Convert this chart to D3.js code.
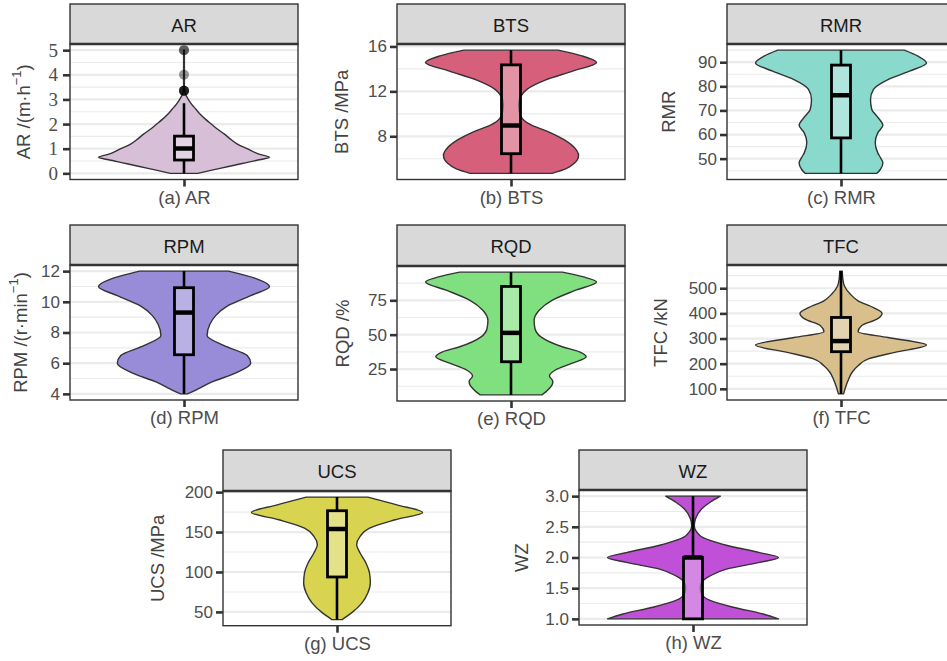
<!DOCTYPE html>
<html><head><meta charset="utf-8">
<script src="https://cdn.jsdelivr.net/npm/d3@7"></script>
<style>body{margin:0;background:#fff;overflow:hidden}</style>
</head><body><svg id="c" width="947" height="661"></svg>
<script>
// ---------------- data ----------------
const names   = ["AR","BTS","RMR","RPM","RQD","TFC","UCS","WZ"];
const xLabels = ["(a) AR","(b) BTS","(c) RMR","(d) RPM","(e) RQD","(f) TFC","(g) UCS","(h) WZ"];
const colors  = ["#D8BFD8","#D6607C","#8AD9CD","#988CD8","#80E080","#D8BF8C","#D8D450","#C050D8"];
const yTitles = [
  [["AR /(m·h",""],["−1","sup"],[")",""]],
  [["BTS /MPa",""]],
  [["RMR",""]],
  [["RPM /(r·min",""],["−1","sup"],[")",""]],
  [["RQD /%",""]],
  [["TFC /kN",""]],
  [["UCS /MPa",""]],
  [["WZ",""]]
];

// violin outlines: [value, relative half-width]
const arProfile  = [[0,0.16],[0.2,0.42],[0.4,0.68],[0.55,0.88],[0.65,1.0],[0.8,0.86],[1.0,0.74],[1.2,0.62],[1.4,0.54],[1.6,0.47],[1.8,0.39],[2.0,0.32],[2.2,0.25],[2.4,0.19],[2.6,0.14],[2.8,0.09],[3.0,0.05],[3.2,0.02],[3.35,0.008],[4.0,0.005],[5.0,0.005]];
const btsProfile = [[4.7,0.48],[5.1,0.64],[5.6,0.74],[6.3,0.79],[7.0,0.74],[7.7,0.62],[8.4,0.44],[9.0,0.24],[9.6,0.13],[10.3,0.095],[10.9,0.09],[11.5,0.11],[12.2,0.19],[13.0,0.4],[13.8,0.72],[14.57,1.0],[15.16,0.83],[15.67,0.55]];
const rmrProfile = [[43.9,0.42],[45.5,0.46],[48.3,0.49],[50.5,0.46],[52.4,0.43],[56.6,0.40],[60.7,0.43],[63.8,0.49],[67.6,0.42],[70.4,0.36],[74.5,0.345],[78.7,0.38],[82.8,0.55],[86.3,0.8],[89.7,1.0],[92.5,0.9],[95,0.74]];
const rpmProfile = [[4.0,0.04],[4.2,0.12],[4.76,0.32],[5.4,0.62],[6.0,0.78],[6.5,0.74],[7.14,0.47],[7.8,0.27],[8.5,0.3],[9.1,0.37],[9.73,0.51],[10.4,0.78],[11.0,1.0],[11.5,0.85],[12.0,0.52]];
const rqdProfile = [[6.2,0.36],[8,0.4],[11,0.45],[13.5,0.48],[16,0.49],[20,0.45],[24.3,0.52],[29.1,0.71],[33.9,0.88],[37.5,0.8],[41.2,0.6],[48.4,0.35],[54.5,0.28],[60.5,0.27],[67.8,0.33],[75,0.48],[82.2,0.75],[88.3,1.0],[92,0.85],[95.5,0.6]];
const tfcProfile = [[80,0.03],[113,0.06],[139,0.09],[166,0.13],[192,0.2],[219,0.32],[245,0.63],[274,1.0],[304,0.55],[327,0.2],[351,0.24],[377,0.42],[400,0.48],[423,0.38],[450,0.2],[476,0.11],[509,0.04],[540,0.02],[568,0.015]];
const ucsProfile = [[40.4,0.06],[48.75,0.17],[61,0.29],[73.75,0.36],[86,0.39],[98.75,0.38],[111,0.34],[123.75,0.27],[134,0.23],[144.6,0.27],[155,0.38],[165.4,0.68],[174.6,1.0],[184,0.7],[193.75,0.36]];
const wzProfile  = [[1.0,1.0],[1.08,0.82],[1.19,0.47],[1.3,0.2],[1.41,0.1],[1.5,0.085],[1.59,0.1],[1.7,0.2],[1.81,0.39],[1.92,0.78],[2.0,1.0],[2.08,0.78],[2.2,0.39],[2.36,0.08],[2.52,0.015],[2.63,0.03],[2.79,0.1],[2.9,0.2],[3.0,0.32]];

// boxplot stats: [lower whisker, Q1, median, Q3, upper whisker]
const arBox  = [0, 0.54, 1.01, 1.51, 2.85];
const btsBox = [4.7, 6.45, 8.96, 14.36, 15.67];
const rmrBox = [43.9, 58.6, 76.3, 88.8, 95];
const rpmBox = [4.0, 6.55, 9.3, 10.92, 12.0];
const rqdBox = [6.2, 30.3, 51.3, 85.1, 95.5];
const tfcBox = [80, 247.7, 290, 383.8, 568];
const ucsBox = [40.4, 93.75, 153.75, 176.7, 193.75];
const wzBox  = [1.0, 1.0, 2.0, 2.0, 3.0];

const arOutliers = [5, 5, 4, 3.35, 3.35, 3.35, 3.35];

// tick labels
const arTicks  = [0,1,2,3,4,5];
const btsTicks = [8,12,16];
const rmrTicks = [50,60,70,80,90];
const rpmTicks = [4,6,8,10,12];
const rqdTicks = [25,50,75];
const tfcTicks = [100,200,300,400,500];
const ucsTicks = [50,100,150,200];
const wzTicks  = [1.0,1.5,2.0,2.5,3.0];

const profiles = [arProfile,btsProfile,rmrProfile,rpmProfile,rqdProfile,tfcProfile,ucsProfile,wzProfile];
const boxes    = [arBox,btsBox,rmrBox,rpmBox,rqdBox,tfcBox,ucsBox,wzBox];
const outliers = [arOutliers,[],[],[],[],[],[],[]];
const ticks    = [arTicks,btsTicks,rmrTicks,rpmTicks,rqdTicks,tfcTicks,ucsTicks,wzTicks];
const tickFmt  = [d3.format("d"),d3.format("d"),d3.format("d"),d3.format("d"),d3.format("d"),d3.format("d"),d3.format("d"),d3.format(".1f")];

// ---------------- layout ----------------
const PW = 228;
const layout = [
  {x:70,  top:4,   stripH:40, h:135.5, tOff:47, serif:true, curve:"cr"},
  {x:397, top:4,   stripH:40, h:135.5, tOff:56},
  {x:727, top:4,   stripH:40, h:135.5, tOff:59},
  {x:70,  top:225, stripH:40, h:135,   tOff:50},
  {x:397, top:225, stripH:41, h:135,   tOff:55},
  {x:727, top:225, stripH:40, h:135,   tOff:67},
  {x:223, top:450, stripH:41, h:134.7, tOff:66},
  {x:579, top:450, stripH:40, h:135,   tOff:58}
];
const SANS = "'Liberation Sans', Arial, sans-serif";
const SERIF = "'Liberation Serif', 'Times New Roman', serif";

const svg = d3.select("#c");
svg.append("rect").attr("width",947).attr("height",661).attr("fill","#fff");
const defs = svg.append("defs");

names.forEach((name, i) => {
  const L = layout[i];
  const prof = profiles[i], bx = boxes[i], outs = outliers[i], tk = ticks[i];
  const x0 = L.x, x1 = L.x + PW, yTop = L.top + L.stripH, yBot = yTop + L.h;
  const g = svg.append("g");

  const vals = prof.map(d => d[0]).concat(outs);
  const ext = d3.extent(vals);
  const pad = (ext[1] - ext[0]) * 0.05;
  const y = d3.scaleLinear().domain([ext[0] - pad, ext[1] + pad]).range([yBot, yTop]);
  const x = d3.scaleLinear().domain([0.4, 1.6]).range([x0, x1]);
  const w = d3.scaleLinear().domain([0, 1]).range([0, 0.45]);

  defs.append("clipPath").attr("id", "cp" + i)
    .append("rect").attr("x", x0).attr("y", yTop).attr("width", PW).attr("height", L.h);
  const pg = g.append("g").attr("clip-path", `url(#cp${i})`);

  pg.append("rect").attr("x", x0).attr("y", yTop).attr("width", PW).attr("height", L.h).attr("fill", "#fff");

  // grid
  const step = tk[1] - tk[0];
  const dom = y.domain();
  const minor = [tk[0] - step].concat(tk).map(t => t + step / 2).filter(t => t > dom[0] && t < dom[1]);
  pg.selectAll(".gmin").data(minor).join("line")
    .attr("x1", x0).attr("x2", x1).attr("y1", d => y(d)).attr("y2", d => y(d))
    .attr("stroke", "#EBEBEB").attr("stroke-width", 1.1);
  pg.selectAll(".gmaj").data(tk).join("line")
    .attr("x1", x0).attr("x2", x1).attr("y1", d => y(d)).attr("y2", d => y(d))
    .attr("stroke", "#EBEBEB").attr("stroke-width", 2.2);

  // violin
  const area = d3.area()
    .y(d => y(d[0]))
    .x0(d => x(1 - w(d[1])))
    .x1(d => x(1 + w(d[1])))
    .curve(L.curve === "cr" ? d3.curveCatmullRom.alpha(0.5) : d3.curveMonotoneY);
  pg.append("path").datum(prof).attr("d", area)
    .attr("fill", colors[i]).attr("stroke", "#333").attr("stroke-width", 1.4)
    .attr("stroke-linejoin", "round");

  // box
  const bw = 0.05; // half box width in x units
  const cx = x(1);
  pg.append("line").attr("x1", cx).attr("x2", cx).attr("y1", y(bx[0])).attr("y2", y(bx[1]))
    .attr("stroke", "#000").attr("stroke-width", 2.6);
  pg.append("line").attr("x1", cx).attr("x2", cx).attr("y1", y(bx[3])).attr("y2", y(bx[4]))
    .attr("stroke", "#000").attr("stroke-width", 2.6);
  pg.append("rect").attr("x", x(1 - bw)).attr("width", x(1 + bw) - x(1 - bw))
    .attr("y", y(bx[3])).attr("height", y(bx[1]) - y(bx[3]))
    .attr("fill", "#fff").attr("fill-opacity", 0.32)
    .attr("stroke", "#000").attr("stroke-width", 2.8);
  pg.append("line").attr("x1", x(1 - bw)).attr("x2", x(1 + bw)).attr("y1", y(bx[2])).attr("y2", y(bx[2]))
    .attr("stroke", "#000").attr("stroke-width", 4.5);

  // outliers
  pg.selectAll(".out").data(outs).join("circle")
    .attr("cx", cx).attr("cy", d => y(d)).attr("r", 5)
    .attr("fill", "#000").attr("fill-opacity", 0.4);

  // panel border
  g.append("rect").attr("x", x0).attr("y", yTop).attr("width", PW).attr("height", L.h)
    .attr("fill", "none").attr("stroke", "#333").attr("stroke-width", 1.4);

  // strip
  g.append("rect").attr("x", x0).attr("y", L.top).attr("width", PW).attr("height", L.stripH)
    .attr("fill", "#D9D9D9").attr("stroke", "#333").attr("stroke-width", 1.4);
  g.append("line").attr("x1", x0).attr("x2", x1).attr("y1", yTop).attr("y2", yTop)
    .attr("stroke", "#333").attr("stroke-width", 2.6);
  g.append("text").attr("x", x0 + PW / 2).attr("y", L.top + L.stripH / 2 + 1)
    .attr("text-anchor", "middle").attr("dominant-baseline", "central")
    .attr("font-family", SANS).attr("font-size", 18.5).attr("fill", "#1A1A1A").text(name);

  // y axis
  const ya = g.append("g").attr("transform", `translate(${x0},0)`)
    .call(d3.axisLeft(y).tickValues(tk).tickSize(7).tickPadding(L.serif ? 5 : 3).tickFormat(tickFmt[i]));
  ya.select(".domain").remove();
  ya.selectAll(".tick line").attr("stroke", "#333").attr("stroke-width", 2.6);
  ya.selectAll(".tick text").attr("fill", "#4D4D4D")
    .attr("font-family", L.serif ? SERIF : SANS).attr("font-size", L.serif ? 19 : 17);

  // x axis
  const xa = g.append("g").attr("transform", `translate(0,${yBot})`)
    .call(d3.axisBottom(x).tickValues([1]).tickSize(7).tickPadding(4).tickFormat(() => xLabels[i]));
  xa.select(".domain").remove();
  xa.selectAll(".tick line").attr("stroke", "#333").attr("stroke-width", 2.6);
  xa.selectAll(".tick text").attr("fill", "#4D4D4D").attr("font-family", SANS).attr("font-size", 18.5);

  // y title
  const tt = g.append("text")
    .attr("transform", `translate(${x0 - L.tOff},${(yTop + yBot) / 2}) rotate(-90)`)
    .attr("text-anchor", "middle").attr("dominant-baseline", "central")
    .attr("font-family", SANS).attr("font-size", 18.5).attr("fill", "#444");
  yTitles[i].forEach((part, k) => {
    const s = tt.append("tspan").text(part[0]);
    if (part[1] === "sup") s.attr("font-size", 13).attr("dy", -7);
    else if (k > 0 && yTitles[i][k - 1][1] === "sup") s.attr("dy", 7);
  });
});
</script></body></html>
